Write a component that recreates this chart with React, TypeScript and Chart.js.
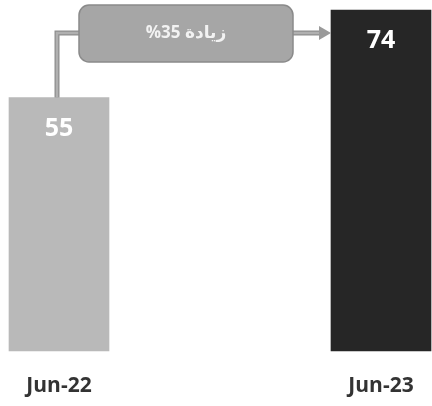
import React, { useEffect, useRef } from "react";
import { Chart, registerables } from "chart.js";

Chart.register(...registerables);

const categories: string[] = ["Jun-22", "Jun-23"];
const values: number[] = [55, 74];
const barColors: string[] = ["#b9b9b9", "#262626"];
const changeLabel = "%35 زيادة";

const FONT = "'Open Sans', 'DejaVu Sans', sans-serif";

const overlayPlugin = {
  id: "overlay",
  afterDatasetsDraw(chart: any) {
    const ctx = chart.ctx as CanvasRenderingContext2D;
    const meta = chart.getDatasetMeta(0);
    const b0 = meta.data[0] as any;
    const b1 = meta.data[1] as any;
    if (!b0 || !b1) return;

    // value labels
    ctx.save();
    ctx.fillStyle = "#ffffff";
    ctx.font = `bold 25px ${FONT}`;
    ctx.textAlign = "center";
    ctx.textBaseline = "middle";
    meta.data.forEach((bar: any, i: number) => {
      ctx.fillText(String(values[i]), bar.x, bar.y + 31);
    });
    ctx.restore();

    // elbow arrow
    const lineY = b1.y + 23;
    const startX = b0.x - 2;
    const endX = b1.x - b1.width / 2;
    ctx.save();
    ctx.strokeStyle = "#8e8e8e";
    ctx.lineWidth = 5;
    ctx.lineJoin = "miter";
    ctx.beginPath();
    ctx.moveTo(startX, b0.y);
    ctx.lineTo(startX, lineY);
    ctx.lineTo(endX - 10, lineY);
    ctx.stroke();
    ctx.strokeStyle = "#b0b0b0";
    ctx.lineWidth = 2.5;
    ctx.beginPath();
    ctx.moveTo(startX, b0.y);
    ctx.lineTo(startX, lineY);
    ctx.lineTo(endX - 10, lineY);
    ctx.stroke();
    ctx.fillStyle = "#9a9a9a";
    ctx.beginPath();
    ctx.moveTo(endX - 12, lineY - 7);
    ctx.lineTo(endX, lineY);
    ctx.lineTo(endX - 12, lineY + 7);
    ctx.closePath();
    ctx.fill();
    ctx.restore();

    // rounded label box
    const boxL = b0.x + b0.width / 2 - 30;
    const boxR = b1.x - b1.width / 2 - 38;
    const boxT = b1.y - 5;
    const boxB = b1.y + 52;
    ctx.save();
    ctx.fillStyle = "#a6a6a6";
    ctx.strokeStyle = "#8a8a8a";
    ctx.lineWidth = 1.5;
    ctx.beginPath();
    (ctx as any).roundRect(boxL, boxT, boxR - boxL, boxB - boxT, 10);
    ctx.fill();
    ctx.stroke();
    ctx.fillStyle = "#f2f2f2";
    ctx.font = `bold 17px ${FONT}`;
    ctx.textAlign = "center";
    ctx.textBaseline = "middle";
    ctx.direction = "ltr";
    ctx.fillText(changeLabel, (boxL + boxR) / 2, lineY);
    ctx.restore();
  },
};

export default function App() {
  const ref = useRef<HTMLCanvasElement | null>(null);
  useEffect(() => {
    if (!ref.current) return;
    const chart = new Chart(ref.current, {
      type: "bar",
      data: {
        labels: categories,
        datasets: [
          {
            data: values,
            backgroundColor: barColors,
            borderWidth: 0,
            barThickness: 100,
            clip: false as any,
          },
        ],
      },
      options: {
        animation: false,
        responsive: false,
        maintainAspectRatio: false,
        layout: { padding: { left: 59, right: 51, top: 10, bottom: -16 } },
        plugins: { legend: { display: false }, tooltip: { enabled: false } },
        scales: {
          x: {
            offset: false,
            grid: { display: false, drawTicks: false },
            border: { display: false },
            afterFit: (scale: any) => {
              scale.paddingLeft = 0;
              scale.paddingRight = 0;
            },
            ticks: {
              padding: 23,
              minRotation: 0,
              maxRotation: 0,
              color: "#333333",
              font: { family: FONT, size: 21, weight: "bold" },
            },
          },
          y: {
            display: false,
            min: 0,
            max: 74,
          },
        },
      },
      plugins: [overlayPlugin],
    });
    return () => chart.destroy();
  }, []);
  return (
    <div style={{ position: "fixed", left: 0, top: 0, width: 432, height: 406, background: "#fff" }}>
      <canvas ref={ref} width={432} height={406} style={{ width: 432, height: 406 }} />
    </div>
  );
}
